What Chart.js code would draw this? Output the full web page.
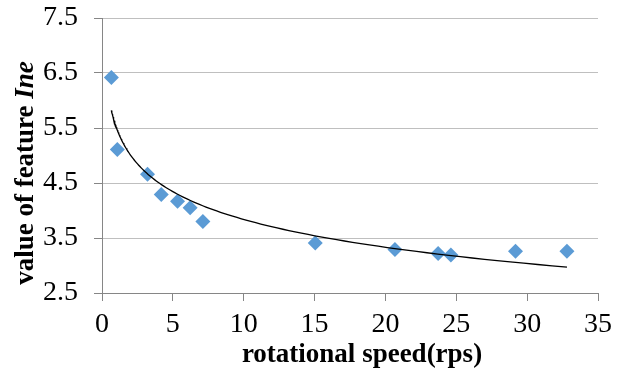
<!DOCTYPE html>
<html>
<head>
<meta charset="utf-8">
<script src="https://cdn.jsdelivr.net/npm/chart.js@4/dist/chart.umd.min.js"></script>
<style>
  body { margin: 0; background: #fff; }
  #wrap { width: 630px; height: 376px; }
</style>
</head>
<body>
<div id="wrap"><canvas id="grafico"></canvas></div>
<script>
// rotational speed (rps) and feature value
let speed = [0.66, 1.08, 3.21, 4.18, 5.33, 6.22, 7.12, 15.05, 20.67, 23.72, 24.62, 29.18, 32.81];
let ine = [6.42, 5.11, 4.66, 4.29, 4.17, 4.05, 3.80, 3.41, 3.29, 3.22, 3.19, 3.26, 3.26];

// axis ticks
let xTicks = [0, 5, 10, 15, 20, 25, 30, 35];
let yTicks = [2.5, 3.5, 4.5, 5.5, 6.5, 7.5];

// logarithmic trendline y = a + b*ln(x), coefficients
let trendA = 5.517;
let trendB = -0.7295;
let trendSteps = 120;

let trend = [];
let x0 = speed[0], x1 = speed[speed.length - 1];
for (let i = 0; i <= trendSteps; i++) {
    let x = x0 * Math.pow(x1 / x0, i / trendSteps);
    trend.push({ x: x, y: trendA + trendB * Math.log(x) });
}

let pontos = speed.map((s, i) => ({ x: s, y: ine[i] }));

let serif = "'Liberation Serif', 'Times New Roman', serif";
let cinza = '#868686';
let tam = 28;      // rotulos dos ticks
let tamTit = 27;   // titulos

// titulos dos eixos (o do eixo y mistura negrito e italico)
let titulos = {
    id: 'titulos',
    afterDraw(chart) {
        let c = chart.ctx;
        c.save();
        c.fillStyle = '#000';
        c.textBaseline = 'alphabetic';
        c.textAlign = 'center';
        c.font = 'bold ' + tamTit + 'px ' + serif;
        c.fillText('rotational speed(rps)', 362, 362);

        let p1 = 'value of feature ';
        let p2 = 'Ine';
        c.font = 'bold ' + tamTit + 'px ' + serif;
        let w1 = c.measureText(p1).width;
        c.font = 'bold italic ' + tamTit + 'px ' + serif;
        let w2 = c.measureText(p2).width;
        c.translate(33, 173);
        c.rotate(-Math.PI / 2);
        c.textAlign = 'left';
        c.font = 'bold ' + tamTit + 'px ' + serif;
        c.fillText(p1, -(w1 + w2) / 2, 0);
        c.font = 'bold italic ' + tamTit + 'px ' + serif;
        c.fillText(p2, -(w1 + w2) / 2 + w1, 0);
        c.restore();
    }
};

var chartGraph = new Chart(document.getElementById('grafico'), {
    type: 'scatter',
    data: {
        datasets: [{
            data: pontos,
            pointStyle: 'rectRot',
            pointRadius: 7.5,
            pointHoverRadius: 7.5,
            backgroundColor: '#5b9bd5',
            borderColor: '#5b9bd5',
            borderWidth: 0,
            order: 2
        }, {
            type: 'line',
            data: trend,
            borderColor: '#000',
            borderWidth: 1.3,
            pointRadius: 0,
            fill: false,
            tension: 0,
            order: 1
        }]
    },
    options: {
        responsive: true,
        maintainAspectRatio: false,
        animation: false,
        layout: { autoPadding: false, padding: { left: 0, right: 32, top: 18, bottom: 0 } },
        plugins: { legend: { display: false }, tooltip: { enabled: false } },
        scales: {
            x: {
                type: 'linear',
                min: xTicks[0],
                max: xTicks[xTicks.length - 1],
                afterBuildTicks: s => { s.ticks = xTicks.map(v => ({ value: v })); },
                afterFit: s => { s.height = 83; },
                grid: { drawOnChartArea: false, tickLength: 8, tickColor: cinza },
                border: { color: cinza, width: 1 },
                ticks: { color: '#000', padding: 10, font: { family: serif, size: tam, lineHeight: 1 } }
            },
            y: {
                type: 'linear',
                min: yTicks[0],
                max: yTicks[yTicks.length - 1],
                afterBuildTicks: s => { s.ticks = yTicks.map(v => ({ value: v })); },
                afterFit: s => { s.width = 102; s.paddingTop = 0; s.paddingBottom = 0; },
                grid: { color: '#bfbfbf', tickLength: 8, tickColor: cinza },
                border: { color: cinza, width: 1 },
                ticks: {
                    color: '#000',
                    padding: 16,
                    font: { family: serif, size: tam, lineHeight: 1 },
                    callback: v => Number(v).toFixed(1)
                }
            }
        }
    },
    plugins: [titulos]
});
</script>
</body>
</html>
